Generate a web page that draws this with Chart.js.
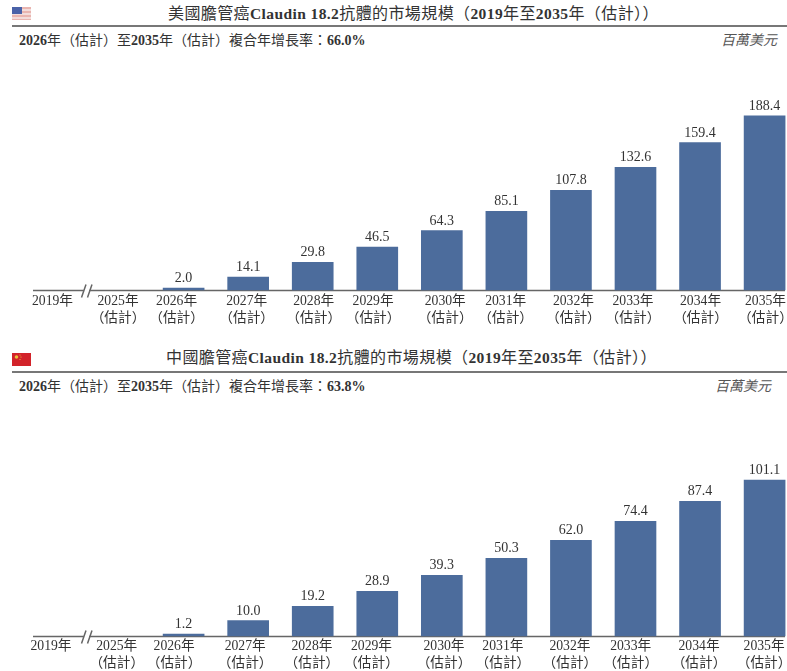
<!DOCTYPE html>
<html>
<head>
<meta charset="utf-8">
<script src="https://cdn.jsdelivr.net/npm/chart.js@4"></script>
<style>
    body { margin: 0; background: #fff; }
    #page { position: relative; width: 787px; height: 671px; overflow: hidden; font-family: "Liberation Serif", "Noto Sans CJK TC", serif; color: #333; }
    #page div, #page svg, #page canvas { position: absolute; }
    .titulo { font-size: 16px; line-height: 18px; letter-spacing: 0.4px; white-space: nowrap; }
    .titulo b { font-size: 15.5px; font-weight: bold; }
    .regla { left: 12px; width: 775px; height: 2px; background: #777; }
    .sub { left: 19px; font-size: 14px; line-height: 16px; white-space: nowrap; }
    .sub b { font-weight: bold; }
    .unidad { font-size: 14px; line-height: 16px; font-style: italic; color: #555; white-space: nowrap; }
</style>
</head>
<body>
<div id="page">
    <svg style="left:12px;top:7px" width="19" height="13" viewBox="0 0 19 13">
        <rect width="19" height="13" fill="#e9b5b0"/>
        <rect y="2" width="19" height="2" fill="#f3dcda"/>
        <rect y="6" width="19" height="2" fill="#f3dcda"/>
        <rect y="10" width="19" height="2" fill="#f3dcda"/>
        <rect width="10" height="7" fill="#4a62a8"/>
    </svg>
    <div class="titulo" style="top:5px;left:168px">美國膽管癌<b>Claudin 18.2</b>抗體的市場規模（<b>2019</b>年至<b>2035</b>年（估計））</div>
    <div class="regla" style="top:25px"></div>
    <div class="sub" style="top:33px"><b>2026</b>年（估計）至<b>2035</b>年（估計）複合年增長率：<b>66.0%</b></div>
    <div class="unidad" style="top:33px;left:721px">百萬美元</div>

    <svg style="left:12px;top:353px" width="19" height="13" viewBox="0 0 19 13">
        <rect width="19" height="13" fill="#d2232a"/>
        <circle cx="4.5" cy="4" r="1.8" fill="#e9c23c"/>
        <circle cx="8" cy="2" r="0.6" fill="#e9c23c"/>
        <circle cx="9" cy="4" r="0.6" fill="#e9c23c"/>
        <circle cx="8" cy="6.5" r="0.6" fill="#e9c23c"/>
    </svg>
    <div class="titulo" style="top:349px;left:166px">中國膽管癌<b>Claudin 18.2</b>抗體的市場規模（<b>2019</b>年至<b>2035</b>年（估計））</div>
    <div class="regla" style="top:371px"></div>
    <div class="sub" style="top:379px"><b>2026</b>年（估計）至<b>2035</b>年（估計）複合年增長率：<b>63.8%</b></div>
    <div class="unidad" style="top:379px;left:715px">百萬美元</div>

    <canvas id="graficaUsa" width="787" height="275" style="left:0;top:60px"></canvas>
    <canvas id="graficaChina" width="787" height="275" style="left:0;top:406px"></canvas>
</div>

<script>
const categorias = [
    '2019年',
    ['2025年', '（估計）'],
    ['2026年', '（估計）'],
    ['2027年', '（估計）'],
    ['2028年', '（估計）'],
    ['2029年', '（估計）'],
    ['2030年', '（估計）'],
    ['2031年', '（估計）'],
    ['2032年', '（估計）'],
    ['2033年', '（估計）'],
    ['2034年', '（估計）'],
    ['2035年', '（估計）']
]
const valoresUsa = [null, null, 2.0, 14.1, 29.8, 46.5, 64.3, 85.1, 107.8, 132.6, 159.4, 188.4]
const valoresChina = [null, null, 1.2, 10.0, 19.2, 28.9, 39.3, 50.3, 62.0, 74.4, 87.4, 101.1]

const fuente = '"Liberation Serif", "Noto Sans CJK TC", serif'

// numeros sobre las barras
const etiquetas = {
    id: 'etiquetas',
    afterDatasetsDraw(chart) {
        const ctx = chart.ctx
        const valores = chart.data.datasets[0].data
        ctx.save()
        ctx.font = '14px ' + fuente
        ctx.fillStyle = '#333'
        ctx.textAlign = 'center'
        ctx.textBaseline = 'alphabetic'
        chart.getDatasetMeta(0).data.forEach((barra, i) => {
            if (valores[i] === null) return
            ctx.fillText(valores[i].toFixed(1), barra.x, barra.y - 6)
        })
        ctx.restore()
    }
}

// linea base con el corte entre 2019 y 2025
const ejeCortado = {
    id: 'ejeCortado',
    beforeDatasetsDraw(chart) {
        const ctx = chart.ctx
        const y = chart.scales.x.top + 0.5
        ctx.save()
        ctx.strokeStyle = '#666'
        ctx.lineWidth = 1.5
        ctx.beginPath()
        ctx.moveTo(33, y)
        ctx.lineTo(84, y)
        ctx.moveTo(89, y)
        ctx.lineTo(785, y)
        ctx.moveTo(81.5, y + 7)
        ctx.lineTo(86, y - 6)
        ctx.moveTo(87.5, y + 7)
        ctx.lineTo(92, y - 6)
        ctx.stroke()
        ctx.restore()
    }
}

function crearGrafica(id, valores, maximo, paddingEtiquetas, corrimiento) {
    return new Chart(document.getElementById(id), {
        type: 'bar',
        data: {
            labels: categorias,
            datasets: [{
                data: valores,
                backgroundColor: '#4c6c9c',
                barThickness: 41,
                clip: false
            }]
        },
        options: {
            responsive: false,
            animation: false,
            layout: { padding: { left: 54.5, right: 22.4, top: 45, bottom: 0 } },
            plugins: { legend: { display: false }, tooltip: { enabled: false } },
            scales: {
                x: {
                    offset: false,
                    grid: { display: false, drawTicks: false },
                    border: { display: false },
                    ticks: {
                        autoSkip: false,
                        maxRotation: 0,
                        color: '#333',
                        padding: paddingEtiquetas,
                        font: { family: fuente, size: 13.7, lineHeight: 1.25 }
                    },
                    afterFit(scale) {
                        scale.paddingLeft = 0
                        scale.paddingRight = 0
                        scale.height = 45
                        // en el original los rotulos no estan centrados bajo las barras
                        scale.getPixelForTick = (i) => scale.getPixelForValue(scale.ticks[i].value) + corrimiento[i]
                    }
                },
                y: { display: false, min: 0, max: maximo }
            }
        },
        plugins: [ejeCortado, etiquetas]
    })
}

crearGrafica('graficaUsa', valoresUsa, 200, 3, [-2, -1, -7, -1.5, 1, -4.2, 3.4, -0.7, 2.5, -2.5, 0.5, 0.9])
crearGrafica('graficaChina', valoresChina, 120, 1.5, [-3.5, -2.3, -9.5, -3, -0.8, -5.8, 2.2, -3.5, -1, -4.8, -1, -0.5])
</script>
</body>
</html>
